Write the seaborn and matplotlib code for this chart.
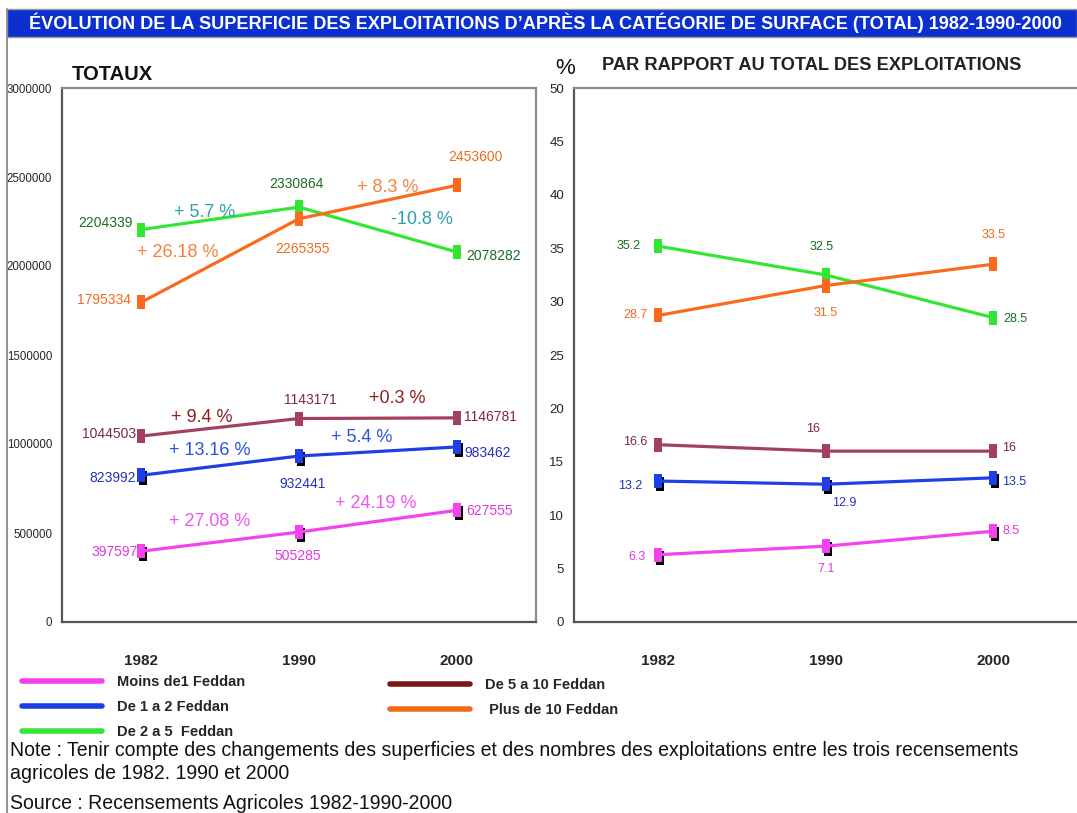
import numpy as np
import pandas as pd
import matplotlib
matplotlib.use("Agg")
import matplotlib.pyplot as plt
import seaborn as sns
from matplotlib.lines import Line2D
from matplotlib.patches import Rectangle
from matplotlib.transforms import offset_copy

# ---------------- data ----------------
years = ["1982", "1990", "2000"]
series_keys = ["moins", "de1a2", "de2a5", "de5a10", "plus10"]
series_names = ["Moins de1 Feddan", "De 1 a 2 Feddan", "De 2 a 5  Feddan",
                "De 5 a 10 Feddan", " Plus de 10 Feddan"]

moins_total = [397597, 505285, 627555]
de1a2_total = [823992, 932441, 983462]
de2a5_total = [2204339, 2330864, 2078282]
de5a10_total = [1044503, 1143171, 1146781]
plus10_total = [1795334, 2265355, 2453600]

moins_pct = [6.3, 7.1, 8.5]
de1a2_pct = [13.2, 12.9, 13.5]
de2a5_pct = [35.2, 32.5, 28.5]
de5a10_pct = [16.6, 16, 16]
plus10_pct = [28.7, 31.5, 33.5]

moins_change = ["+ 27.08 %", "+ 24.19 %"]
de1a2_change = ["+ 13.16 %", "+ 5.4 %"]
de2a5_change = ["+ 5.7 %", "-10.8 %"]
de5a10_change = ["+ 9.4 %", "+0.3 %"]
plus10_change = ["+ 26.18 %", "+ 8.3 %"]

left_yticks = [0, 500000, 1000000, 1500000, 2000000, 2500000, 3000000]
right_yticks = [0, 5, 10, 15, 20, 25, 30, 35, 40, 45, 50]

title = "ÉVOLUTION DE LA SUPERFICIE DES EXPLOITATIONS D’APRÈS LA CATÉGORIE DE SURFACE (TOTAL) 1982-1990-2000"
left_title = "TOTAUX"
right_title = "PAR RAPPORT AU TOTAL DES EXPLOITATIONS"
note1 = "Note : Tenir compte des changements des superficies et des nombres des exploitations entre les trois recensements"
note2 = "agricoles de 1982. 1990 et 2000"
source = "Source : Recensements Agricoles 1982-1990-2000"

totals = dict(zip(series_keys, [moins_total, de1a2_total, de2a5_total, de5a10_total, plus10_total]))
pcts = dict(zip(series_keys, [moins_pct, de1a2_pct, de2a5_pct, de5a10_pct, plus10_pct]))
changes = dict(zip(series_keys, [moins_change, de1a2_change, de2a5_change, de5a10_change, plus10_change]))

# ---------------- styles ----------------
line_colors = {"moins": "#f443ee", "de1a2": "#1f3fe6", "de2a5": "#33e633",
               "de5a10": "#a3405f", "plus10": "#fb6a1c"}
label_colors = {"moins": "#dc3adc", "de1a2": "#2433b8", "de2a5": "#1b6b22",
                "de5a10": "#7d2552", "plus10": "#f06a20"}
change_colors = {"moins": "#f055f0", "de1a2": "#2a55d5", "de2a5": "#2f9eb0",
                 "de5a10": "#8b1f1f", "plus10": "#f2813f"}
legend_colors = {"moins": "#f443ee", "de1a2": "#1f3fe6", "de2a5": "#33e633",
                 "de5a10": "#7b1515", "plus10": "#f26b1a"}
shadowed = {"moins", "de1a2"}

# offsets in pixels (dx, dy, ha) for value labels
left_off = {
    "moins": [(-3, -1, "right"), (-1, -24, "center"), (9, -1, "left")],
    "de1a2": [(-5, -3, "right"), (4, -28, "center"), (7, -6, "left")],
    "de2a5": [(-8, 7, "right"), (-3, 23, "center"), (9, -4, "left")],
    "de5a10": [(-5, 2, "right"), (11, 19, "center"), (7, 1, "left")],
    "plus10": [(-10, 2, "right"), (3, -30, "center"), (18, 28, "center")],
}
change_off = {
    "moins": [(-10, 20), (-2, 18)],
    "de1a2": [(-10, 15), (-16, 14)],
    "de2a5": [(-15, 6), (44, 10)],
    "de5a10": [(-18, 10), (19, 20)],
    "plus10": [(-42, 8), (10, 15)],
}
right_off = {
    "moins": [(-12, -2, "right"), (1, -23, "center"), (9, 0, "left")],
    "de1a2": [(-16, -5, "right"), (19, -19, "center"), (9, -4, "left")],
    "de2a5": [(-17, 0, "right"), (-4, 28, "center"), (10, -1, "left")],
    "de5a10": [(-10, 3, "right"), (-12, 22, "center"), (9, 3, "left")],
    "plus10": [(-10, 0, "right"), (0, -27, "center"), (0, 29, "center")],
}

sns.set_style("white")
REG = ["Liberation Sans", "DejaVu Sans"]
plt.rcParams["font.family"] = REG

W, H = 1077, 813
fig = plt.figure(figsize=(W / 100, H / 100), dpi=100)

def fx(px):
    return px / W

def fy(py):
    return 1 - py / H

ax_l = fig.add_axes([fx(62), fy(622), fx(536) - fx(62), fy(88) - fy(622)])
ax_r = fig.add_axes([fx(574), fy(622), fx(1077) - fx(574), fy(88) - fy(622)])

marker_verts = [(-0.28, -0.5), (0.28, -0.5), (0.28, 0.5), (-0.28, 0.5), (-0.28, -0.5)]

def build_df(values):
    rows = []
    for k in series_keys:
        for yr, v in zip(years, values[k]):
            rows.append({"year": yr, "value": v, "cat": k})
    return pd.DataFrame(rows)

def draw_panel(ax, values, offsets, fmt, label_size, msize, with_changes):
    df = build_df(values)
    sh_tr = offset_copy(ax.transData, fig=fig, x=2, y=-3, units="dots")
    sns.lineplot(data=df, x="year", y="value", hue="cat", palette=line_colors,
                 hue_order=series_keys, linewidth=2.3, marker=marker_verts,
                 markersize=msize, markeredgewidth=0, legend=False, ax=ax,
                 sort=False, zorder=3)
    for k in series_keys:
        if k in shadowed:
            ax.plot(range(3), values[k], linestyle="none", marker=marker_verts,
                    markersize=msize, color="black", markeredgewidth=0,
                    transform=sh_tr, zorder=2.5)
        for i, v in enumerate(values[k]):
            dx, dy, ha = offsets[k][i]
            ax.annotate(fmt(v), xy=(i, v), xytext=(dx, dy), textcoords="offset pixels",
                        ha=ha, va="center", fontsize=label_size,
                        color=label_colors[k], zorder=5)
        if with_changes:
            for j, txt in enumerate(changes[k]):
                xm = j + 0.5
                ym = (values[k][j] + values[k][j + 1]) / 2
                dx, dy = change_off[k][j]
                ax.annotate(txt, xy=(xm, ym), xytext=(dx, dy), textcoords="offset pixels",
                            ha="center", va="center", fontsize=13,
                            color=change_colors[k], zorder=5)

draw_panel(ax_l, totals, left_off, lambda v: f"{int(v)}", 10, 9.5, True)
draw_panel(ax_r, pcts, right_off, lambda v: f"{v:g}", 9, 10, False)

for ax, yt, ymax, yfs in [(ax_l, left_yticks, 3000000, 8.3), (ax_r, right_yticks, 50, 9.5)]:
    ax.set_xlim(-0.5, 2.5)
    ax.set_ylim(0, ymax)
    ax.set_yticks(yt)
    ax.set_yticklabels([str(v) for v in yt], fontsize=yfs)
    ax.set_xticks([0, 1, 2])
    ax.set_xticklabels(years, fontsize=11, fontweight="bold")
    ax.set_xticks([0.5, 1.5], minor=True)
    ax.tick_params(axis="x", which="major", length=0, pad=23)
    ax.tick_params(axis="x", which="minor", length=5, width=1.5, color="#555555", direction="out")
    ax.tick_params(axis="y", length=4, width=1.2, color="#555555", direction="out", pad=3)
    ax.set_xlabel("")
    ax.set_ylabel("")
    ax.grid(False)
    for s in ["left", "bottom"]:
        ax.spines[s].set_color("#555555")
        ax.spines[s].set_linewidth(1.6)
    for s in ["top", "right"]:
        ax.spines[s].set_color("#8c8c8c")
        ax.spines[s].set_linewidth(1.6)
ax_r.spines["right"].set_visible(False)

# title bar and outer border
fig.add_artist(Rectangle((fx(7), fy(37)), fx(1077) - fx(7), fy(9) - fy(37),
                         transform=fig.transFigure, facecolor="#0c30d0",
                         edgecolor="#9a9a9a", linewidth=1, zorder=0))
fig.add_artist(Line2D([fx(7), fx(7)], [fy(9), fy(813)], transform=fig.transFigure,
                      color="#8a8a8a", linewidth=1.3))

def fit_text(t, target_px):
    fig.canvas.draw()
    w = t.get_window_extent(renderer=fig.canvas.get_renderer()).width
    t.set_fontsize(t.get_fontsize() * target_px / w)

t_title = fig.text(fx(545), fy(23), title, ha="center", va="center", color="white",
                   fontsize=13, fontweight="bold")
fit_text(t_title, 1032)

fig.text(fx(72), fy(75), left_title, ha="left", va="center", fontsize=14.5,
         fontweight="bold", color="#111111")
fig.text(fx(555), fy(69), "%", ha="left", va="center", fontsize=16, color="#111111")
t_rt = fig.text(fx(602), fy(66), right_title, ha="left", va="center", fontsize=12,
                fontweight="bold", color="#222222")
fit_text(t_rt, 418)

# legend
h1 = [Line2D([0], [0], color=legend_colors[k], linewidth=4) for k in series_keys[:3]]
h2 = [Line2D([0], [0], color=legend_colors[k], linewidth=4) for k in series_keys[3:]]
leg_kw = dict(frameon=False, prop={"family": REG, "weight": "bold", "size": 10.5},
              handlelength=5.5, handletextpad=1.0, labelspacing=0.75, borderpad=0,
              borderaxespad=0, loc="upper left", bbox_transform=fig.transFigure)
leg1 = fig.legend(h1, series_names[:3], bbox_to_anchor=(fx(22), fy(675)), **leg_kw)
leg2 = fig.legend(h2, series_names[3:], bbox_to_anchor=(fx(390), fy(678)), **leg_kw)

t_n1 = fig.text(fx(10), fy(750), note1, ha="left", va="center", fontsize=13.5, color="#111111")
fit_text(t_n1, 1003)
fs = t_n1.get_fontsize()
fig.text(fx(10), fy(773), note2, ha="left", va="center", fontsize=fs, color="#111111")
fig.text(fx(10), fy(803), source, ha="left", va="center", fontsize=fs, color="#111111")

fig.savefig("out.png", dpi=100)
